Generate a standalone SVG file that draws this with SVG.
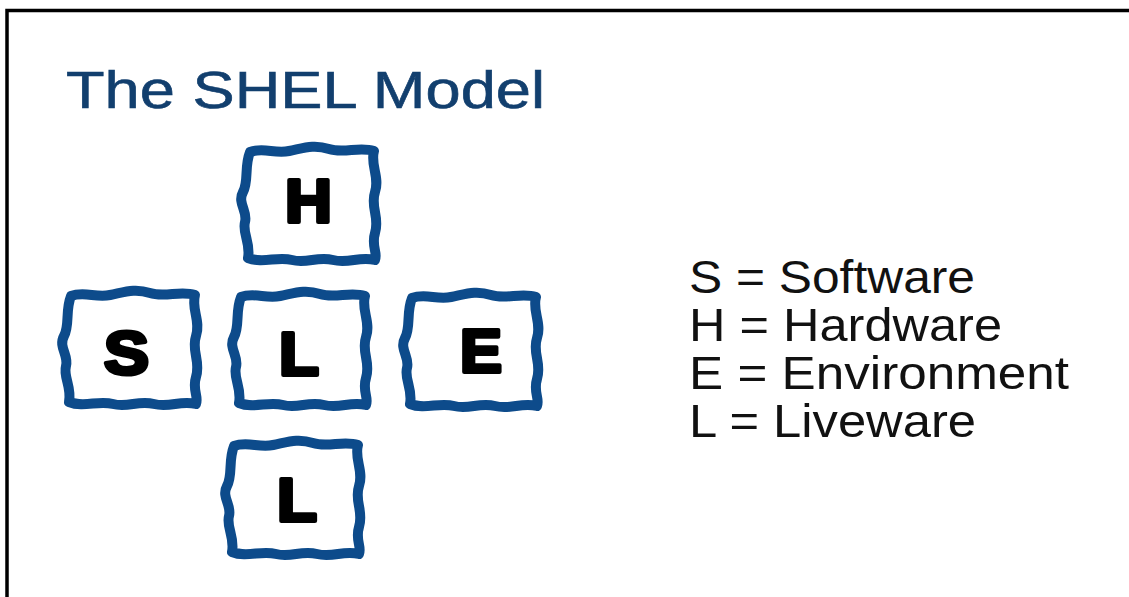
<svg xmlns="http://www.w3.org/2000/svg" width="1129" height="597" viewBox="0 0 1129 597">
<style>
.frame{fill:none;stroke:#000;stroke-width:3.5}
.title{font-family:"Liberation Sans",Arial,sans-serif;font-size:51px;fill:#123f6e;stroke:#123f6e;stroke-width:0.6}
.legend{font-family:"Liberation Sans",Arial,sans-serif;font-size:46px;fill:#111}
.box{fill:#fff;stroke:#0d4b8b;stroke-width:10;stroke-linejoin:round;stroke-linecap:round}
.letter{font-family:"Liberation Sans",Arial,sans-serif;font-weight:bold;font-size:61px;fill:#000;stroke:#000;stroke-width:4;stroke-linejoin:round}
</style>
<defs>
<path id="wavy" d="M7,5 C20,0 32,7 46,4 C61,1 71,-3 86,2 C101,7 116,-1 131,4 C127,18 137,30 132,45 C127,60 137,70 132,86 C128,99 135,106 132,113 C116,109 106,117 90,113 C74,109 64,117 49,113 C34,109 20,117 5,111 C8,96 -1,86 2,75 C5,64 -6,56 0,45 C6,34 1,20 7,5 Z"/>
</defs>
<rect width="1129" height="597" fill="#fff"/>
<path class="frame" d="M7,597 V10.5 H1129"/>
<text class="title" x="66" y="108" textLength="479" lengthAdjust="spacingAndGlyphs">The SHEL Model</text>
<g id="node-H">
<use href="#wavy" class="box" transform="translate(243,147)"/>
<text class="letter" x="285" y="222" textLength="47" lengthAdjust="spacingAndGlyphs">H</text>
</g>
<g id="node-S">
<use href="#wavy" class="box" transform="translate(64,291)"/>
<text class="letter" x="104" y="374" textLength="45" lengthAdjust="spacingAndGlyphs">S</text>
</g>
<g id="node-L">
<use href="#wavy" class="box" transform="translate(234,292)"/>
<text class="letter" x="279" y="375" textLength="40" lengthAdjust="spacingAndGlyphs">L</text>
</g>
<g id="node-E">
<use href="#wavy" class="box" transform="translate(405,293)"/>
<text class="letter" x="460" y="372" textLength="42" lengthAdjust="spacingAndGlyphs">E</text>
</g>
<g id="node-L2">
<use href="#wavy" class="box" transform="translate(227,441)"/>
<text class="letter" x="277" y="521" textLength="40" lengthAdjust="spacingAndGlyphs">L</text>
</g>
<g id="connectors"></g>
<g id="legend">
<text class="legend" x="689" y="293" textLength="286" lengthAdjust="spacingAndGlyphs">S = Software</text>
<text class="legend" x="689" y="341" textLength="313" lengthAdjust="spacingAndGlyphs">H = Hardware</text>
<text class="legend" x="689" y="389" textLength="380" lengthAdjust="spacingAndGlyphs">E = Environment</text>
<text class="legend" x="689" y="437" textLength="287" lengthAdjust="spacingAndGlyphs">L = Liveware</text>
</g>
</svg>
